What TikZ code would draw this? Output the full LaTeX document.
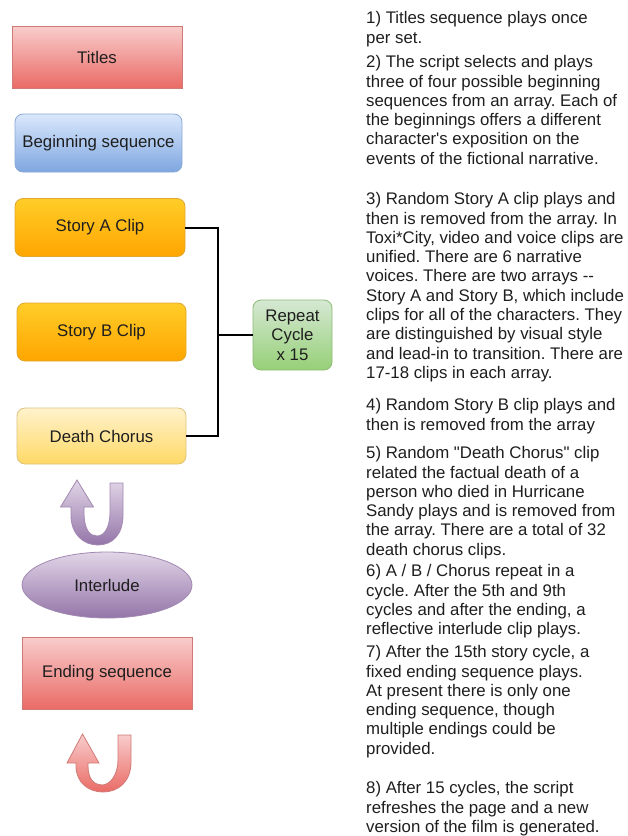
\documentclass[tikz,border=0pt]{standalone}
\usepackage{fontspec}
\setmainfont{Liberation Sans}[Ligatures=TeXOff]
\usetikzlibrary{shapes.geometric}
\definecolor{txt}{HTML}{1E1E1E}
\definecolor{redT}{HTML}{F8CDCC}
\definecolor{redB}{HTML}{EA6B66}
\definecolor{redD}{HTML}{D07A76}
\definecolor{bluT}{HTML}{DAE8FC}
\definecolor{bluB}{HTML}{7EA6E0}
\definecolor{bluD}{HTML}{8CA9D4}
\definecolor{oraT}{HTML}{FFCD28}
\definecolor{oraB}{HTML}{FFA500}
\definecolor{oraD}{HTML}{E0A730}
\definecolor{yelT}{HTML}{FFF2CC}
\definecolor{yelB}{HTML}{FFD966}
\definecolor{yelD}{HTML}{DEC27A}
\definecolor{grnT}{HTML}{D5E8D4}
\definecolor{grnB}{HTML}{97D077}
\definecolor{grnD}{HTML}{8DBB74}
\definecolor{purT}{HTML}{E1D5E7}
\definecolor{purB}{HTML}{9475A8}
\definecolor{purD}{HTML}{A289B2}
\frenchspacing
\begin{document}
\begin{tikzpicture}[x=1pt,y=-1pt,
  lbl/.style={font=\fontsize{16.8}{19.3}\selectfont, text=txt},
  box/.style={lbl, inner sep=0pt, line width=0.8pt, minimum width=170pt, minimum height=58pt},
  redbox/.style={box, draw=redD, top color=redT, bottom color=redB},
  blubox/.style={box, draw=bluD, top color=bluT, bottom color=bluB, rounded corners=8pt},
  orabox/.style={box, draw=oraD, top color=oraT, bottom color=oraB, rounded corners=8pt},
  yelbox/.style={box, draw=yelD, top color=yelT, bottom color=yelB, rounded corners=8pt},
  grnbox/.style={box, draw=grnD, top color=grnT, bottom color=grnB, rounded corners=8pt, align=center},
  purell/.style={box, ellipse, draw=purD, top color=purT, bottom color=purB},
  note/.style={lbl, anchor=north west, inner sep=0pt, align=left},
  conn/.style={line width=2pt, draw=black},
  uturnP/.style={draw=purD, line width=0.8pt, top color=purT, bottom color=purB},
  uturnR/.style={draw=redD, line width=0.8pt, top color=redT, bottom color=redB}
]
\useasboundingbox (0,0) rectangle (628,836);

% left column
\node[redbox, minimum width=170pt, minimum height=62pt] (titles) at (97,57) {Titles};
\node[blubox, minimum width=167pt] (begin) at (98.5,143) {Beginning sequence};
\node[orabox] (storyA) at (100,227.5) {Story A Clip};
\node[orabox, minimum width=169pt] (storyB) at (101.5,332) {Story B Clip};
\node[yelbox, minimum width=169pt, minimum height=56pt] (death) at (101.5,436) {Death Chorus};
\node[grnbox, minimum width=79pt, minimum height=70pt] (repeat) at (292.5,335) {Repeat\\Cycle\\x 15};
\node[purell, minimum width=170pt, minimum height=66pt] (inter) at (107,585) {Interlude};
\node[redbox, minimum width=170pt, minimum height=72pt] (ending) at (107,673) {Ending sequence};

% bracket connector
\coordinate (jA) at (218,227.5);
\coordinate (jD) at (218,436);
\coordinate (jM) at (218,335);
\draw[conn] (storyA.east) -- (jA) -- (jD) -- (death.east);
\draw[conn] (jM) -- (repeat.west);

% purple u-turn arrow
\path[uturnP] (77,480) -- (93.5,507) -- (84,507) -- (84,512)
  .. controls (84,530) and (90,536) .. (97,536)
  .. controls (104,536) and (110,528) .. (110,512)
  -- (110,483) -- (123,483) -- (123,515)
  .. controls (123,535) and (112,545) .. (98,545)
  .. controls (84,545) and (71,535) .. (71,515)
  -- (71,507) -- (60.5,507) -- cycle;

% red u-turn arrow
\path[uturnR] (82.5,734) -- (99,763) -- (88,763) -- (88,766)
  .. controls (88,780) and (95,785) .. (102,785)
  .. controls (110,785) and (118,775) .. (118,760)
  -- (118,735) -- (131,735) -- (131,762)
  .. controls (131,782) and (118,792) .. (103,792)
  .. controls (88,792) and (76,782) .. (76,766)
  -- (76,763) -- (67,763) -- cycle;

% notes
\node[note] (n1) at (366,10) {\strut 1) Titles sequence plays once\\per set.};
\node[note] (n2) at (366,54) {\strut 2) The script selects and plays\\three of four possible beginning\\sequences from an array. Each of\\the beginnings offers a different\\character's exposition on the\\events of the fictional narrative.};
\node[note] (n3) at (366,191) {\strut 3) Random Story A clip plays and\\then is removed from the array. In\\Toxi*City, video and voice clips are\\unified. There are 6 narrative\\voices. There are two arrays --\\Story A and Story B, which include\\clips for all of the characters. They\\are distinguished by visual style\\and lead-in to transition. There are\\17-18 clips in each array.};
\node[note] (n4) at (366,397) {\strut 4) Random Story B clip plays and\\then is removed from the array};
\node[note] (n5) at (366,445) {\strut 5) Random "Death Chorus" clip\\related the factual death of a\\person who died in Hurricane\\Sandy plays and is removed from\\the array. There are a total of 32\\death chorus clips.};
\node[note] (n6) at (366,563) {\strut 6) A / B / Chorus repeat in a\\cycle. After the 5th and 9th\\cycles and after the ending, a\\reflective interlude clip plays.};
\node[note] (n7) at (366,644) {\strut 7) After the 15th story cycle, a\\fixed ending sequence plays.\\At present there is only one\\ending sequence, though\\multiple endings could be\\provided.};
\node[note] (n8) at (366,780) {\strut 8) After 15 cycles, the script\\refreshes the page and a new\\version of the film is generated.};
\end{tikzpicture}
\end{document}
